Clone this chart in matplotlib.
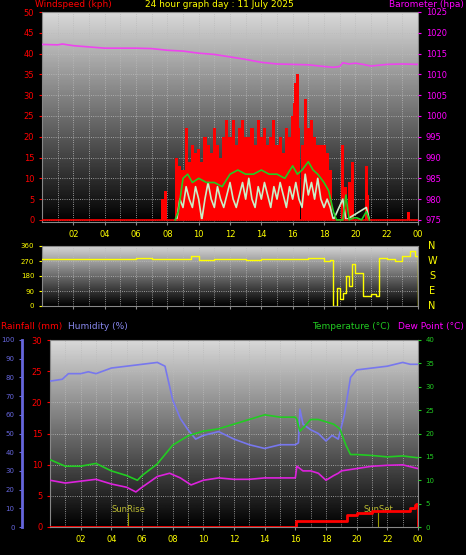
import numpy as np
import matplotlib
matplotlib.use("Agg")
import matplotlib.pyplot as plt

hours_ticks = [2,4,6,8,10,12,14,16,18,20,22,24]
hour_labels = ["02","04","06","08","10","12","14","16","18","20","22","00"]

baro_t = [0,1,1.3,2,3,4,5,6,7,8,9,10,11,12,13,14,15,16,17,18,18.6,19,19.2,19.6,20,20.5,21,21.5,22,23,24]
baro_v = [1017.2,1017.1,1017.3,1016.9,1016.6,1016.3,1016.3,1016.3,1016.2,1015.8,1015.6,1015.1,1014.8,1014.2,1013.6,1012.9,1012.5,1012.4,1012.3,1011.9,1011.7,1011.9,1012.8,1012.5,1012.7,1012.4,1012.0,1012.2,1012.4,1012.5,1012.4]

gust_t = [7.7,7.9,8.6,8.8,9.0,9.2,9.4,9.6,9.8,10.0,10.2,10.4,10.6,10.8,11.0,11.2,11.4,11.6,11.8,12.0,12.2,12.4,12.6,12.8,13.0,13.2,13.4,13.6,13.8,14.0,14.2,14.4,14.6,14.8,15.0,15.2,15.4,15.6,15.8,16.0,16.1,16.2,16.3,16.4,16.6,16.8,17.0,17.2,17.4,17.6,17.8,18.0,18.2,18.4,19.2,19.4,19.6,19.8,20.7,20.8,23.4]
gust_v = [5,7,15,13,12,22,14,18,16,17,14,20,18,16,22,18,15,20,24,20,24,18,22,24,20,20,22,18,24,20,22,18,20,24,18,20,16,22,20,25,28,33,35,22,18,29,22,24,20,18,18,18,16,12,18,8,9,14,13,6,2]

avg_t = [8.5,8.7,9.0,9.3,9.6,10.0,10.5,11.0,11.5,12.0,12.5,13.0,13.5,14.0,14.5,15.0,15.5,16.0,16.3,16.6,17.0,17.3,17.6,18.0,18.3,18.6,18.8,19.2,19.4,19.6,19.9,20.1,20.4,20.7,20.9]
avg_v = [0,2,10,11,9,10,9,9,8,11,12,11,11,12,11,11,10,13,11,12,14,12,11,9,7,2,0,0,6,0,0.5,0.5,0,2,0]

lo_t = [8.6,8.8,9.0,9.2,9.4,9.6,9.8,10.0,10.2,10.4,10.6,10.8,11.0,11.2,11.4,11.6,11.8,12.0,12.2,12.4,12.6,12.8,13.0,13.2,13.4,13.6,13.8,14.0,14.2,14.4,14.6,14.8,15.0,15.2,15.4,15.6,15.8,16.0,16.2,16.4,16.6,16.8,17.0,17.2,17.4,17.6,17.8,18.0,18.2,18.4,18.6,19.2,19.4,20.7,20.9]
lo_v = [0,5,3,8,5,3,8,5,0,5,9,5,3,8,5,3,6,9,5,3,6,9,5,10,5,3,8,5,9,6,3,8,5,9,6,3,8,5,9,5,3,11,6,9,5,10,5,3,5,3,0,5,0,3,0]

dir_t = [0,3,5,6,7,8,9,9.5,10,11,12,13,14,15,16,17,18,18.4,18.6,18.8,19.0,19.2,19.4,19.6,19.8,20.0,20.5,21.0,21.3,21.5,22,22.5,23,23.5,23.8,24]
dir_v = [280,280,280,290,285,280,280,300,275,280,285,275,280,285,280,290,270,275,0,110,40,80,180,120,250,200,60,70,60,290,280,270,300,330,300,0]

rain_t = [0,16.0,16.05,19.3,19.35,20.0,21.0,23.2,23.5,23.8,23.9,24]
rain_v = [0,0,1.0,1.0,2.0,2.2,2.5,2.5,3.0,3.5,3.7,0]

hum_t = [0,0.8,1.2,2,2.5,3,4,5,6,7,7.5,8,8.5,9,9.5,10,11,12,13,14,15,16,16.2,16.3,16.5,17,17.5,18,18.4,18.8,19.2,19.6,20,21,22,23,23.5,24]
hum_v = [78,79,82,82,83,82,85,86,87,88,86,68,58,52,47,49,51,47,44,42,44,44,45,63,55,52,50,46,49,47,60,80,84,85,86,88,87,87]

temp_t = [0,1,2,3,4,5,5.7,6,7,8,9,10,11,12,13,14,15,16,16.1,16.3,16.6,17,17.5,18,18.5,18.9,19.3,19.6,20,21,22,23,24]
temp_v = [14.4,13.0,13.0,13.6,12.0,11.0,10.0,11.0,13.5,17.5,19.5,20.5,21.0,22.0,23.0,24.0,23.5,23.5,23.0,20.5,21.5,23.0,23.0,22.5,22.0,21.0,17.5,15.5,15.5,15.3,15.0,15.2,14.8]

dew_t = [0,1,2,3,4,5,5.6,6,7,7.8,8.5,9.2,10,11,12,13,14,15,16,16.1,16.3,16.5,17,17.5,18,18.5,18.8,19,20,21,22,23,24]
dew_v = [10.0,9.4,9.8,10.2,9.2,8.5,7.5,8.5,10.8,11.5,10.5,9.0,10.0,10.5,10.2,10.2,10.5,10.5,10.5,13.0,12.5,12.0,12.0,11.5,10.0,11.0,11.5,12.0,12.5,13.0,13.2,13.3,12.5]

W, H = 466, 555
fig = plt.figure(figsize=(W/100, H/100), dpi=100, facecolor="black")
grad = np.linspace(0.85, 0.0, 256).reshape(-1, 1)

def style(ax, ylo, yhi, xt=True):
    ax.set_facecolor("black")
    ax.imshow(grad, extent=[0, 24, ylo, yhi], aspect="auto", cmap="gray", vmin=0, vmax=1, zorder=0)
    ax.set_xlim(0, 24); ax.set_ylim(ylo, yhi)
    ax.set_xticks(hours_ticks)
    ax.set_xticks(np.arange(0, 24.1, 1), minor=True)
    if xt:
        ax.set_xticklabels(hour_labels, color="yellow", fontsize=6)
    else:
        ax.set_xticklabels([])
    ax.grid(True, which="both", axis="x", color="#bbbbbb", ls=":", lw=0.6, zorder=1)
    ax.grid(True, which="major", axis="y", color="#bbbbbb", ls=":", lw=0.6, zorder=1)
    for s in ax.spines.values():
        s.set_color("#888888")
    ax.tick_params(axis="x", colors="#888888", labelcolor="yellow", length=2, labelsize=6)

# Top panel
ax1 = fig.add_axes([42/W, 1-222/H, 376/W, 210/H])
style(ax1, -0.5, 50)
ax1.set_yticks(range(0, 51, 5))
ax1.tick_params(axis="y", colors="red", labelcolor="red", labelsize=6, length=2)
ax1.bar(gust_t, gust_v, width=0.2, color="red", zorder=2, linewidth=0)
ax1.plot(lo_t, lo_v, color="#c8f0c8", lw=1.2, zorder=3)
ax1.plot(avg_t, avg_v, color="#22cc22", lw=1.2, zorder=4)
ax1.axhline(0, color="red", lw=1.2, zorder=3)
ax1b = ax1.twinx()
ax1b.set_ylim(974.5, 1025)
ax1b.set_yticks(range(975, 1026, 5))
ax1b.tick_params(axis="y", colors="magenta", labelcolor="magenta", labelsize=6, length=2)
ax1b.plot(baro_t, baro_v, color="#ee44ee", lw=1.2)
for s in ax1b.spines.values():
    s.set_visible(False)
fig.text(0.075, 0.992, "Windspeed (kph)", color="red", fontsize=6.5, ha="left", va="center")
fig.text(0.47, 0.992, "24 hour graph day : 11 July 2025", color="yellow", fontsize=6.5, ha="center", va="center")
fig.text(0.995, 0.992, "Barometer (hpa)", color="magenta", fontsize=6.5, ha="right", va="center")

# Middle panel
ax2 = fig.add_axes([42/W, 1-306/H, 376/W, 60/H])
style(ax2, 0, 360, xt=False)
ax2.set_yticks([0, 90, 180, 270, 360])
ax2.tick_params(axis="y", colors="yellow", labelcolor="yellow", labelsize=5, length=2)
ax2.step(dir_t, dir_v, where="post", color="yellow", lw=1.0, zorder=3)
for lab, yy in zip(["N", "W", "S", "E", "N"], [360, 270, 180, 90, 0]):
    ax2.text(24.9, yy, lab, color="yellow", fontsize=7, ha="center", va="center", clip_on=False)

# Bottom panel
ax3 = fig.add_axes([50/W, 1-527/H, 368/W, 187/H])
style(ax3, 0, 30)
ax3.set_yticks(range(0, 31, 5))
ax3.tick_params(axis="y", colors="red", labelcolor="red", labelsize=6, length=2)
ax3.step(rain_t, rain_v, where="post", color="red", lw=2, zorder=5)
axh = ax3.twinx()
axh.set_ylim(0, 100)
axh.spines["left"].set_position(("outward", 20))
axh.spines["left"].set_color("#6666dd"); axh.spines["left"].set_linewidth(2)
axh.yaxis.set_ticks_position("left"); axh.yaxis.set_label_position("left")
axh.set_yticks(range(0, 101, 10))
axh.tick_params(axis="y", colors="#6666dd", labelcolor="#6666dd", labelsize=5, length=2)
for k in ["right", "top", "bottom"]:
    axh.spines[k].set_visible(False)
axh.plot(hum_t, hum_v, color="#7777ee", lw=1.2)
axt = ax3.twinx()
axt.set_ylim(0, 40)
axt.set_yticks(range(0, 41, 5))
axt.tick_params(axis="y", colors="#22cc22", labelcolor="#22cc22", labelsize=5, length=2)
for s in axt.spines.values():
    s.set_visible(False)
axt.plot(temp_t, temp_v, color="#22cc22", lw=1.2)
axt.plot(dew_t, dew_v, color="#dd22dd", lw=1.2)
for xx, lab in [(5.1, "SunRise"), (21.4, "SunSet")]:
    ax3.plot([xx, xx], [0, 2.2], color="#999900", lw=0.8, zorder=4)
    ax3.text(xx, 2.8, lab, color="#bbbb33", fontsize=6, ha="center", va="center", zorder=4)
fig.text(0.002, 0.412, "Rainfall (mm)", color="red", fontsize=6.5, ha="left", va="center")
fig.text(0.145, 0.412, "Humidity (%)", color="#8888ee", fontsize=6.5, ha="left", va="center")
fig.text(0.67, 0.412, "Temperature (°C)", color="#22cc22", fontsize=6.5, ha="left", va="center")
fig.text(0.995, 0.412, "Dew Point (°C)", color="magenta", fontsize=6.5, ha="right", va="center")

fig.savefig("out.png", dpi=100, facecolor="black")
